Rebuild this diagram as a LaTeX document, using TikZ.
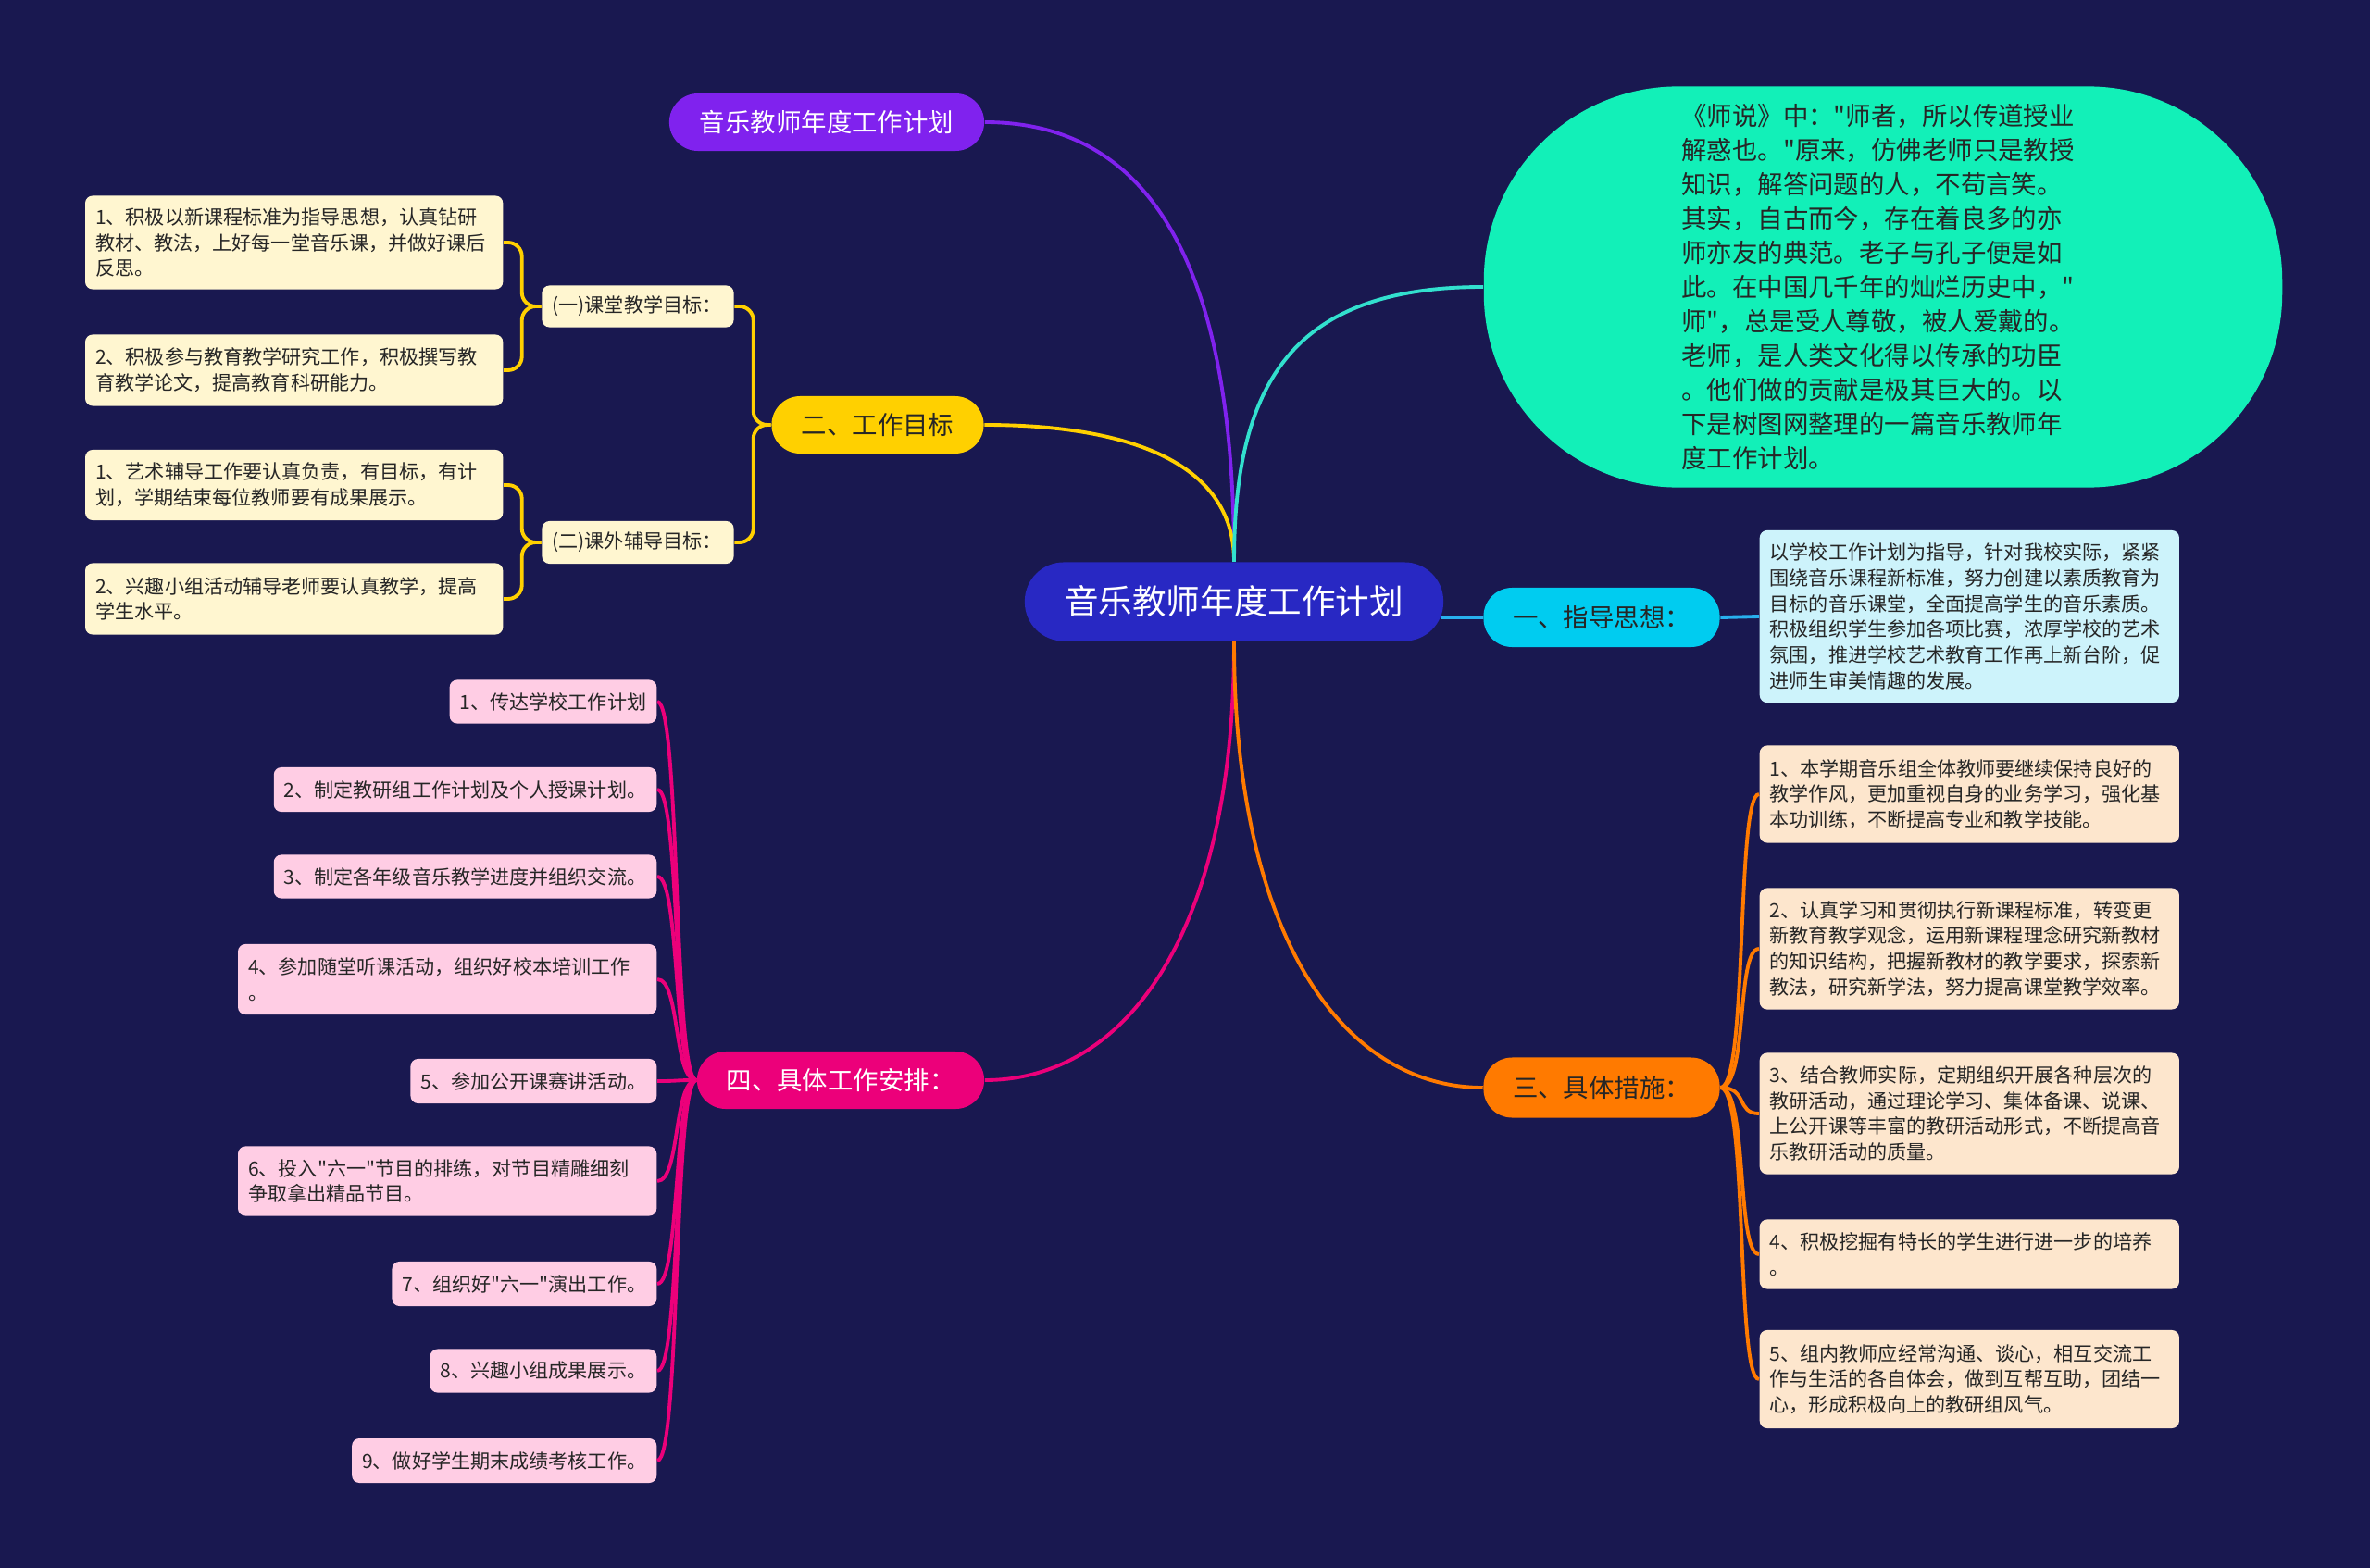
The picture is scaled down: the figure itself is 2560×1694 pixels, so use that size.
\documentclass[tikz,border=0pt]{standalone}
\usepackage{fontspec}
\setmainfont{Noto Sans CJK SC}[Ligatures=TeXOff]
\usepackage{tikz}
\definecolor{bgnavy}{RGB}{25,24,80}
\definecolor{rootblue}{RGB}{40,40,195}
\definecolor{titlepurple}{RGB}{128,34,238}
\definecolor{quotegreen}{RGB}{18,240,184}
\definecolor{quoteline}{RGB}{50,224,206}
\definecolor{guidecyan}{RGB}{0,204,240}
\definecolor{guideline}{RGB}{40,176,238}
\definecolor{guidepale}{RGB}{205,243,251}
\definecolor{workyellow}{RGB}{255,208,0}
\definecolor{workpale}{RGB}{255,246,208}
\definecolor{measureorange}{RGB}{255,122,0}
\definecolor{measurepale}{RGB}{253,230,205}
\definecolor{planpink}{RGB}{236,0,122}
\definecolor{planpale}{RGB}{255,205,228}
\definecolor{darktext}{RGB}{38,38,38}
\tikzset{
  pill/.style={rounded corners=0.31cm, minimum height=0.62cm, inner sep=0pt,
    font=\fontsize{7.8}{9}\selectfont},
  leaf/.style={rounded corners=0.08cm, align=left, text=darktext, inner xsep=0.11cm,
    inner ysep=0pt, font=\fontsize{6}{7.9}\selectfont},
  link/.style={line width=1.1pt},
}

\begin{document}
\begin{tikzpicture}[x=0.01cm,y=-0.01cm]
\fill[bgnavy] (0,0) rectangle (2560,1694);

% centre and main branches
\node[pill, rounded corners=0.42cm, minimum width=4.52cm, minimum height=0.85cm, fill=rootblue,
  text=white, font=\fontsize{10.4}{12}\selectfont] (root) at (1333,650) {音乐教师年度工作计划};
\node[pill, minimum width=3.40cm, fill=titlepurple, text=white] (title) at (893,132) {音乐教师年度工作计划};
\node[pill, minimum width=2.29cm, fill=workyellow, text=darktext] (work) at (948,459) {二、工作目标};
\node[pill, minimum width=3.10cm, fill=planpink, text=white] (plan) at (908,1167) {四、具体工作安排：};
\node[pill, minimum width=2.55cm, minimum height=0.64cm, fill=guidecyan, text=darktext] (guide) at (1730,667) {一、指导思想：};
\node[pill, minimum width=2.55cm, minimum height=0.65cm, fill=measureorange, text=darktext] (measure) at (1730,1175) {三、具体措施：};

% quote bubble
\node[fill=quotegreen, rounded corners=2.1cm, minimum width=8.62cm, minimum height=4.33cm,
  text width=4.35cm, align=left, text=darktext, font=\fontsize{7.8}{10.5}\selectfont] (quote) at (2034,310)
  {《师说》中："师者，所以传道授业\\解惑也。"原来，仿佛老师只是教授\\知识，解答问题的人，不苟言笑。\\其实，自古而今，存在着良多的亦\\师亦友的典范。老子与孔子便是如\\此。在中国几千年的灿烂历史中，"\\师"，总是受人尊敬，被人爱戴的。\\老师，是人类文化得以传承的功臣\\。他们做的贡献是极其巨大的。以\\下是树图网整理的一篇音乐教师年\\度工作计划。};

% guide text
\node[leaf, fill=guidepale, text width=4.31cm, minimum height=1.86cm, anchor=west] (guidetext) at (1900,666)
  {以学校工作计划为指导，针对我校实际，紧紧\\围绕音乐课程新标准，努力创建以素质教育为\\目标的音乐课堂，全面提高学生的音乐素质。\\积极组织学生参加各项比赛，浓厚学校的艺术\\氛围，推进学校艺术教育工作再上新台阶，促\\进师生审美情趣的发展。};

% measures
\node[leaf, fill=measurepale, text width=4.31cm, minimum height=1.05cm, anchor=west] (m1) at (1900,858)
  {1、本学期音乐组全体教师要继续保持良好的\\教学作风，更加重视自身的业务学习，强化基\\本功训练，不断提高专业和教学技能。};
\node[leaf, fill=measurepale, text width=4.31cm, minimum height=1.31cm, anchor=west] (m2) at (1900,1025)
  {2、认真学习和贯彻执行新课程标准，转变更\\新教育教学观念，运用新课程理念研究新教材\\的知识结构，把握新教材的教学要求，探索新\\教法，研究新学法，努力提高课堂教学效率。};
\node[leaf, fill=measurepale, text width=4.31cm, minimum height=1.31cm, anchor=west] (m3) at (1900,1203)
  {3、结合教师实际，定期组织开展各种层次的\\教研活动，通过理论学习、集体备课、说课、\\上公开课等丰富的教研活动形式，不断提高音\\乐教研活动的质量。};
\node[leaf, fill=measurepale, text width=4.31cm, minimum height=0.75cm, anchor=west] (m4) at (1900,1355)
  {4、积极挖掘有特长的学生进行进一步的培养\\。};
\node[leaf, fill=measurepale, text width=4.31cm, minimum height=1.06cm, anchor=west] (m5) at (1900,1490)
  {5、组内教师应经常沟通、谈心，相互交流工\\作与生活的各自体会，做到互帮互助，团结一\\心，形成积极向上的教研组风气。};

% work goals
\node[leaf, fill=workpale, text width=1.85cm, minimum height=0.45cm] (goalA) at (689,331) {(一)课堂教学目标：};
\node[leaf, fill=workpale, text width=1.85cm, minimum height=0.46cm] (goalB) at (689,586) {(二)课外辅导目标：};
\node[leaf, fill=workpale, text width=4.29cm, minimum height=1.01cm, anchor=east] (goalA1) at (544,262)
  {1、积极以新课程标准为指导思想，认真钻研\\教材、教法，上好每一堂音乐课，并做好课后\\反思。};
\node[leaf, fill=workpale, text width=4.29cm, minimum height=0.77cm, anchor=east] (goalA2) at (544,400)
  {2、积极参与教育教学研究工作，积极撰写教\\育教学论文，提高教育科研能力。};
\node[leaf, fill=workpale, text width=4.29cm, minimum height=0.76cm, anchor=east] (goalB1) at (544,524)
  {1、艺术辅导工作要认真负责，有目标，有计\\划，学期结束每位教师要有成果展示。};
\node[leaf, fill=workpale, text width=4.29cm, minimum height=0.77cm, anchor=east] (goalB2) at (544,647)
  {2、兴趣小组活动辅导老师要认真教学，提高\\学生水平。};

% work plan
\node[leaf, fill=planpale, minimum height=0.47cm, anchor=east] (p1) at (710,758) {1、传达学校工作计划};
\node[leaf, fill=planpale, minimum height=0.48cm, anchor=east] (p2) at (710,853) {2、制定教研组工作计划及个人授课计划。};
\node[leaf, fill=planpale, minimum height=0.47cm, anchor=east] (p3) at (710,947) {3、制定各年级音乐教学进度并组织交流。};
\node[leaf, fill=planpale, text width=4.30cm, minimum height=0.76cm, anchor=east] (p4) at (710,1058)
  {4、参加随堂听课活动，组织好校本培训工作\\。};
\node[leaf, fill=planpale, minimum height=0.48cm, anchor=east] (p5) at (710,1168) {5、参加公开课赛讲活动。};
\node[leaf, fill=planpale, text width=4.30cm, minimum height=0.75cm, anchor=east] (p6) at (710,1276)
  {6、投入"六一"节目的排练，对节目精雕细刻\\争取拿出精品节目。};
\node[leaf, fill=planpale, minimum height=0.48cm, anchor=east] (p7) at (710,1387) {7、组织好"六一"演出工作。};
\node[leaf, fill=planpale, minimum height=0.47cm, anchor=east] (p8) at (710,1481) {8、兴趣小组成果展示。};
\node[leaf, fill=planpale, minimum height=0.48cm, anchor=east] (p9) at (710,1578) {9、做好学生期末成绩考核工作。};

% connectors from the centre
\draw[link, titlepurple] (title.east) to[out=0, in=90, out distance=1.9cm, in distance=3cm] (root.north);
\draw[link, workyellow] (work.east) to[out=0, in=90, out distance=1.5cm, in distance=1.1cm] (root.north);
\draw[link, quoteline] (root.north) to[out=90, in=180, out distance=2cm, in distance=2cm] (quote.west);
\draw[link, planpink] (root.south) to[out=-90, in=0, out distance=3.2cm, in distance=1.5cm] (plan.east);
\draw[link, measureorange] (root.south) to[out=-90, in=180, out distance=3.2cm, in distance=1.5cm] (measure.west);
\draw[link, guideline] ([xshift=-0.03cm]root.east |- guide.west) -- (guide.west);
\draw[link, guideline] (guide.east) -- (guidetext.west);

% connectors to the leaves
\foreach \leaf in {m1,m2,m3,m4,m5}
  \draw[link, measureorange] (measure.east) to[out=0, in=180, out distance=0.3cm, in distance=0.25cm] (\leaf.west);
\foreach \leaf in {p1,p2,p3,p4,p5,p6,p7,p8,p9}
  \draw[link, planpink] (plan.west) to[out=180, in=0, out distance=0.25cm, in distance=0.25cm] (\leaf.east);
\foreach \g in {goalA,goalB}
  \draw[link, workyellow, rounded corners=0.15cm] (work.west) -- ++(-19,0) |- (\g.east);
\foreach \g in {goalA1,goalA2}
  \draw[link, workyellow, rounded corners=0.15cm] (goalA.west) -- ++(-21,0) |- (\g.east);
\foreach \g in {goalB1,goalB2}
  \draw[link, workyellow, rounded corners=0.15cm] (goalB.west) -- ++(-21,0) |- (\g.east);
\end{tikzpicture}
\end{document}
